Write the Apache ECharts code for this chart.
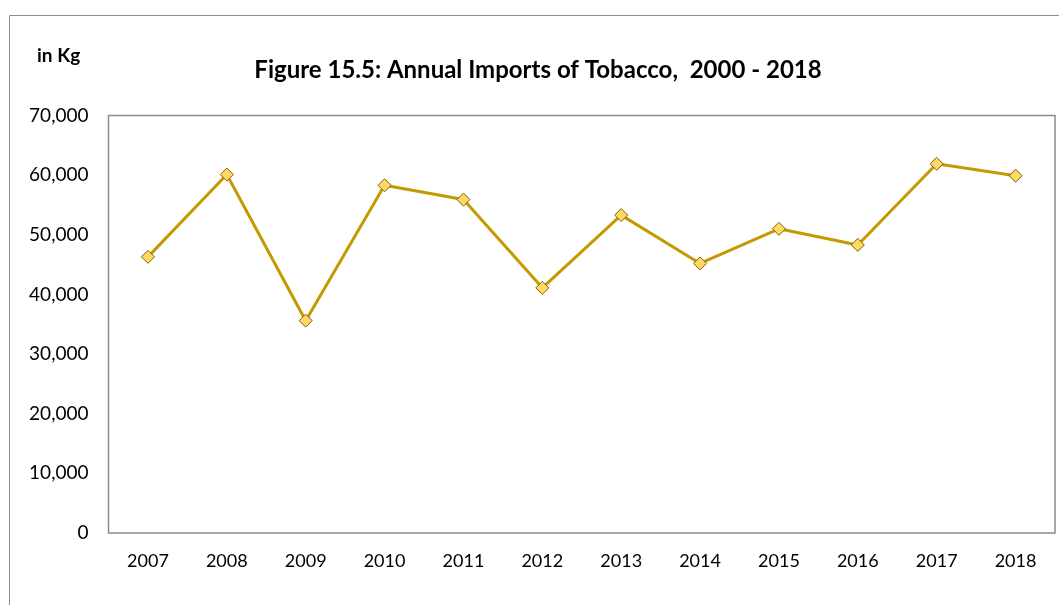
<!DOCTYPE html>
<html>
<head>
<meta charset="utf-8">
<script src="https://cdn.jsdelivr.net/npm/echarts@6/dist/echarts.min.js"></script>
<style>
html,body{margin:0;padding:0;background:#fff;}
#chart{width:1059px;height:605px;}
</style>
</head>
<body>
<div id="chart"></div>
<script>
const years = ['2007','2008','2009','2010','2011','2012','2013','2014','2015','2016','2017','2018'];
const imports = [46300, 60100, 35600, 58300, 55900, 41100, 53300, 45200, 51000, 48300, 61900, 59900];
const yTicks = [0, 10000, 20000, 30000, 40000, 50000, 60000, 70000];

const FONT = 'Lato, "Open Sans", "Liberation Sans", sans-serif';
const chart = echarts.init(document.getElementById('chart'));
chart.setOption({
  backgroundColor: '#fff',
  animation: false,
  title: {
    text: 'Figure 15.5: Annual Imports of Tobacco,  2000 - 2018',
    left: 533, top: 53, textAlign: 'center',
    textStyle: {fontFamily: FONT, fontSize: 24, fontWeight: 'bold', color: '#000'}
  },
  graphic: [
    {type: 'rect', shape: {x: 9.5, y: 15.5, width: 1100, height: 700},
     style: {fill: 'none', stroke: '#8c8c8c', lineWidth: 1}, silent: true},
    {type: 'text', left: 37, top: 46,
     style: {text: 'in Kg', font: 'bold 19px ' + FONT, fill: '#000'}}
  ],
  grid: {left: 108.5, right: 4, top: 115.5, bottom: 72, show: true, borderColor: '#8c8c8c', borderWidth: 1.5},
  xAxis: {
    type: 'category', data: years, boundaryGap: true,
    axisLine: {show: false}, axisTick: {show: false},
    axisLabel: {fontFamily: FONT, fontSize: 18, color: '#000', margin: 19}
  },
  yAxis: {
    type: 'value', min: 0, max: 70000, interval: 10000,
    splitLine: {show: false}, axisLine: {show: false}, axisTick: {show: false},
    axisLabel: {fontFamily: FONT, fontSize: 19, color: '#000', margin: 20,
      formatter: v => yTicks.includes(v) ? v.toLocaleString('en-US') : ''}
  },
  series: [{
    type: 'line', data: imports,
    lineStyle: {color: '#C49A00', width: 3},
    symbol: 'diamond', symbolSize: 13,
    itemStyle: {color: '#FFD966', borderColor: '#7F6000', borderWidth: 1}
  }]
});
</script>
</body>
</html>
